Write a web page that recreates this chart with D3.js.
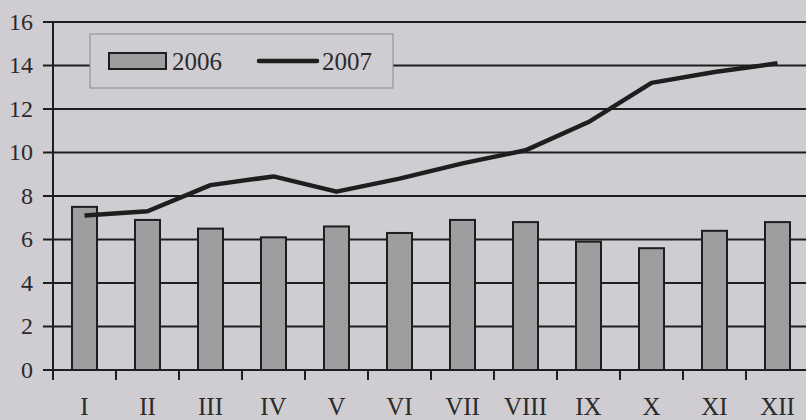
<!DOCTYPE html>
<meta charset="utf-8">
<script src="https://cdn.jsdelivr.net/npm/d3@7"></script>
<style>
body { margin: 0; background: #cfcdd1; }
svg { display: block; }
text {
  fill: #2a2a2a;
  font-family: "Liberation Serif", "DejaVu Serif", serif;
}
.grid line { stroke: #1e1e1e; stroke-width: 2px; }
.bar { fill: #9e9da0; stroke: #1e1e1e; stroke-width: 2px; }
.line2007 { fill: none; stroke: #1e1e1e; stroke-width: 4.5px; stroke-linejoin: round; }
</style>
<body>
<script>

// months (roman numerals)
var months = ["I", "II", "III", "IV", "V", "VI", "VII", "VIII", "IX", "X", "XI", "XII"];
var values2006 = [7.5, 6.9, 6.5, 6.1, 6.6, 6.3, 6.9, 6.8, 5.9, 5.6, 6.4, 6.8];
var values2007 = [7.1, 7.3, 8.5, 8.9, 8.2, 8.8, 9.5, 10.1, 11.4, 13.2, 13.7, 14.1];
var yTicks = [0, 2, 4, 6, 8, 10, 12, 14, 16];
var seriesNames = ["2006", "2007"];

var width = 806,
    height = 420;

var svg = d3.select("body").append("svg")
    .attr("width", width)
    .attr("height", height);

var x = d3.scaleBand()
    .domain(months)
    .range([53, 809])
    .paddingInner(0)
    .paddingOuter(0);

var y = d3.scaleLinear()
    .domain([0, 16])
    .range([370, 22]);

// horizontal grid lines
svg.append("g")
    .attr("class", "grid")
  .selectAll("line")
  .data(yTicks)
  .enter().append("line")
    .attr("x1", 43)
    .attr("x2", width)
    .attr("y1", function(d) { return y(d); })
    .attr("y2", function(d) { return y(d); });

// y labels
svg.append("g")
  .selectAll("text")
  .data(yTicks)
  .enter().append("text")
    .attr("x", 33)
    .attr("y", function(d) { return y(d); })
    .attr("dy", "0.33em")
    .attr("text-anchor", "end")
    .style("font-size", "24px")
    .text(function(d) { return d; });

// y axis line
svg.append("line")
    .attr("x1", 53).attr("x2", 53)
    .attr("y1", y(16)).attr("y2", 380)
    .style("stroke", "#1e1e1e").style("stroke-width", 2);

// x ticks at band boundaries
svg.append("g")
  .selectAll("line")
  .data(months)
  .enter().append("line")
    .attr("x1", function(d) { return x(d) + x.bandwidth(); })
    .attr("x2", function(d) { return x(d) + x.bandwidth(); })
    .attr("y1", y(0))
    .attr("y2", 380)
    .style("stroke", "#1e1e1e").style("stroke-width", 2);

// x labels
svg.append("g")
  .selectAll("text")
  .data(months)
  .enter().append("text")
    .attr("x", function(d) { return x(d) + x.bandwidth() / 2; })
    .attr("y", 415)
    .attr("text-anchor", "middle")
    .style("font-size", "25px")
    .text(function(d) { return d; });

// bars 2006
var barW = 25;
svg.append("g")
  .selectAll("rect")
  .data(values2006)
  .enter().append("rect")
    .attr("class", "bar")
    .attr("x", function(d, i) { return x(months[i]) + x.bandwidth() / 2 - barW / 2; })
    .attr("y", function(d) { return y(d); })
    .attr("width", barW)
    .attr("height", function(d) { return y(0) - y(d); });

// line 2007
var line = d3.line()
    .x(function(d, i) { return x(months[i]) + x.bandwidth() / 2; })
    .y(function(d) { return y(d); });

svg.append("path")
    .datum(values2007)
    .attr("class", "line2007")
    .attr("d", line);

// legend
var legend = svg.append("g");
legend.append("rect")
    .attr("x", 90).attr("y", 34)
    .attr("width", 303).attr("height", 54)
    .style("fill", "#cfcdd1")
    .style("stroke", "#8a898c").style("stroke-width", 1);
legend.append("rect")
    .attr("class", "bar")
    .attr("x", 109).attr("y", 53)
    .attr("width", 57).attr("height", 16);
legend.append("text")
    .attr("x", 172).attr("y", 61)
    .attr("dy", "0.35em")
    .style("font-size", "25px")
    .text(seriesNames[0]);
legend.append("line")
    .attr("x1", 259).attr("x2", 317)
    .attr("y1", 61).attr("y2", 61)
    .style("stroke", "#1e1e1e").style("stroke-width", 4.5)
    .style("stroke-linecap", "round");
legend.append("text")
    .attr("x", 322).attr("y", 61)
    .attr("dy", "0.35em")
    .style("font-size", "25px")
    .text(seriesNames[1]);

</script>
</body>
</html>
